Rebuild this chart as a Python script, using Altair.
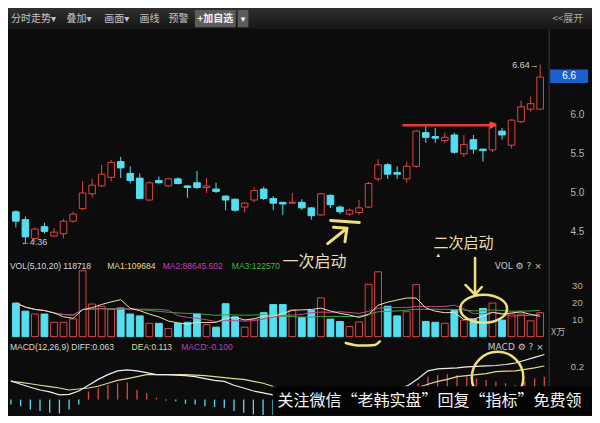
import altair as alt
import pandas as pd

# ---------------- data ----------------
opens = [4.76, 4.66, 4.42, 4.57, 4.45, 4.48, 4.64, 4.80, 4.99, 5.09,
         5.20, 5.40, 5.25, 5.19, 4.91, 5.16, 5.09, 5.18, 5.09, 5.13,
         5.07, 5.05, 4.96, 4.92, 4.82, 4.91, 5.05, 4.93, 4.88, 4.87,
         4.88, 4.81, 4.72, 4.97, 4.82, 4.73, 4.75, 4.82, 5.18, 5.36,
         5.26, 5.18, 5.34, 5.77, 5.72, 5.67, 5.74, 5.50, 5.68, 5.56,
         5.55, 5.79, 5.61, 5.91, 6.07, 6.07]
highs = [4.78, 4.70, 4.56, 4.62, 4.55, 4.67, 4.76, 5.15, 5.18, 5.36,
         5.42, 5.46, 5.34, 5.25, 5.15, 5.21, 5.19, 5.20, 5.10, 5.28,
         5.19, 5.13, 4.97, 4.93, 4.88, 5.07, 5.08, 4.96, 4.88, 5.00,
         4.92, 4.82, 5.00, 4.98, 4.84, 4.80, 4.91, 5.14, 5.43, 5.38,
         5.34, 5.40, 5.80, 5.85, 5.83, 5.77, 5.77, 5.74, 5.74, 5.56,
         5.90, 5.83, 5.94, 6.18, 6.23, 6.64]
lows = [4.56, 4.36, 4.37, 4.48, 4.44, 4.42, 4.62, 4.78, 4.94, 5.08,
        5.15, 5.19, 5.12, 4.92, 4.90, 5.12, 5.08, 5.11, 4.94, 5.05,
        5.00, 5.00, 4.78, 4.76, 4.75, 4.88, 4.91, 4.78, 4.72, 4.86,
        4.78, 4.66, 4.71, 4.81, 4.73, 4.71, 4.72, 4.81, 5.15, 5.18,
        5.18, 5.13, 5.32, 5.64, 5.64, 5.64, 5.50, 5.46, 5.50, 5.40,
        5.52, 5.68, 5.57, 5.89, 6.04, 6.06]
closes = [4.64, 4.44, 4.54, 4.51, 4.50, 4.64, 4.73, 5.00, 5.10, 5.24,
          5.39, 5.32, 5.16, 4.93, 5.13, 5.13, 5.18, 5.12, 5.07, 5.07,
          5.09, 5.02, 4.91, 4.78, 4.87, 5.03, 4.93, 4.87, 4.86, 4.88,
          4.81, 4.71, 4.99, 4.85, 4.76, 4.78, 4.81, 5.12, 5.36, 5.24,
          5.24, 5.34, 5.79, 5.71, 5.70, 5.71, 5.52, 5.62, 5.56, 5.54,
          5.89, 5.74, 5.93, 6.10, 6.14, 6.48]
volumes = [19.9, 15.1, 13.4, 13.4, 8.5, 8.5, 10.5, 39.0, 19.3, 18.0,
           16.2, 17.0, 13.4, 12.3, 7.9, 7.9, 4.8, 7.9, 8.5, 13.4,
           7.1, 5.6, 19.5, 11.7, 5.6, 10.5, 14.2, 19.0, 19.0, 15.7,
           11.3, 15.5, 23.0, 10.4, 9.0, 6.0, 8.7, 31.0, 38.4, 18.0,
           12.3, 14.8, 30.8, 9.0, 8.5, 7.9, 15.5, 9.8, 10.4, 16.7,
           19.9, 9.8, 13.4, 13.4, 9.4, 14.2]
diff_vals = [0.115, 0.094, 0.076, 0.059, 0.047, 0.029, 0.032, 0.053, 0.088, 0.124,
             0.153, 0.176, 0.182, 0.176, 0.165, 0.153, 0.153, 0.150, 0.147, 0.141,
             0.129, 0.118, 0.112, 0.088, 0.071, 0.053, 0.041, 0.029, 0.012, -0.006,
             -0.018, -0.024, -0.029, -0.029, -0.029, -0.024, -0.012, 0.006, 0.024, 0.041,
             0.065, 0.088, 0.129, 0.176, 0.188, 0.191, 0.194, 0.200, 0.203, 0.206,
             0.209, 0.215, 0.224, 0.241, 0.259, 0.276]
dea_vals = [0.112, 0.106, 0.097, 0.088, 0.079, 0.071, 0.059, 0.065, 0.071, 0.082,
            0.100, 0.118, 0.129, 0.141, 0.153, 0.153, 0.153, 0.153, 0.153, 0.150,
            0.147, 0.141, 0.135, 0.129, 0.124, 0.112, 0.100, 0.082, 0.065, 0.047,
            0.035, 0.024, 0.018, 0.012, 0.012, 0.012, 0.015, 0.018, 0.024, 0.035,
            0.047, 0.059, 0.076, 0.094, 0.112, 0.124, 0.141, 0.147, 0.153, 0.159,
            0.171, 0.174, 0.176, 0.185, 0.194, 0.206]
macd_hist = [-0.03, -0.04, -0.06, -0.07, -0.08, -0.085, -0.06, -0.03, 0.05, 0.07,
             0.09, 0.10, 0.105, 0.06, 0.04, 0.012, -0.005, -0.01, -0.025, -0.03,
             -0.04, -0.045, -0.05, -0.07, -0.08, -0.09, -0.095, -0.10, -0.10, -0.10,
             -0.10, -0.09, -0.09, -0.08, -0.08, -0.07, -0.05, -0.03, 0.0, 0.01,
             0.035, 0.06, 0.10, 0.14, 0.15, 0.155, 0.15, 0.14, 0.13, 0.12,
             0.11, 0.10, 0.09, 0.11, 0.13, 0.14]

price_ticks = [6.0, 5.5, 5.0, 4.5]
vol_ticks = [30, 20, 10]
macd_ticks = [0.2]

toolbar_items = ["分时走势▾", "叠加▾", "画面▾", "画线", "预警"]

# annotation anchors (candle index, value)
resistance = {"idx": [41.55, 50.9], "price": [5.865, 5.865]}
first_mark_seg = ["u", "u", "d", "d", "h", "h", "h"]
first_mark_idx = [34.02, 37.03, 33.71, 35.73, 34.32, 35.73, 35.52]
first_mark_price = [4.649, 4.624, 4.354, 4.550, 4.563, 4.550, 4.378]
down_arrow_seg = ["s", "s", "h", "h", "h"]
down_arrow_idx = [49.17, 49.17, 48.17, 49.17, 49.88]
down_arrow_vol = [46.5, 25.0, 30.6, 24.9, 29.4]
bracket_idx = [35.52, 37.03, 38.54, 39.04]
bracket_val = [0.347, 0.331, 0.335, 0.356]

# ---------------- styling / layout ----------------
BG = "#0c0c0c"
RED = "#e04545"
CYAN = "#55def0"
YEL = "#f0e07a"
GRAY = "#b4b4b4"
NUM = "Liberation Sans"
CJK = "Noto Sans CJK SC, DejaVu Sans"

W = 584
SX = 584 / 600
SY = 407 / 423
H_TB, H_P, H_V, H_M = 21, 229, 83, 74
TOP_P, TOP_V, TOP_M = 22, 260, 346


def px(x):
    return x * SX


def py(y, top):
    return (y - top) * SY


XS = alt.Scale(domain=[1 - 3 / 9.964, 1 + 597 / 9.964], nice=False, zero=False)
YP = alt.Scale(domain=[4.170, 7.093], nice=False, zero=False)
YV = alt.Scale(domain=[-2.57, 46.57], nice=False, zero=False)
YM = alt.Scale(domain=[-0.0941, 0.3588], nice=False, zero=False)
DIR_STROKE = alt.Scale(domain=["up", "down"], range=[RED, CYAN])
DIR_FILL = alt.Scale(domain=["up", "down"], range=[BG, CYAN])


def xenc():
    return alt.X("idx:Q", scale=XS, axis=None)


def label(text, x, y, size=9, color=GRAY, align="left", font=NUM, weight="normal"):
    return alt.Chart(pd.DataFrame({"t": [text]})).mark_text(
        align=align, baseline="middle", fontSize=size, font=font,
        color=color, fontWeight=weight
    ).encode(text="t:N", x=alt.value(x), y=alt.value(y))


def box(x1, x2, y1, y2, color):
    return alt.Chart(pd.DataFrame({"a": [0]})).mark_rect(color=color).encode(
        x=alt.value(x1), x2=alt.value(x2), y=alt.value(y1), y2=alt.value(y2))


def vsep(h):
    return alt.Chart(pd.DataFrame({"a": [0]})).mark_rule(color="#3a3a3a", strokeWidth=1).encode(
        x=alt.value(px(556)), y=alt.value(0), y2=alt.value(h))


n = len(opens)
df = pd.DataFrame({
    "idx": list(range(1, n + 1)), "open": opens, "high": highs, "low": lows,
    "close": closes, "vol": volumes, "diff": diff_vals, "dea": dea_vals, "hist": macd_hist,
})
base = alt.Chart(df).transform_calculate(
    dir="datum.close >= datum.open ? 'up' : 'down'", zero="0")

# ---------------- toolbar ----------------
tb_bg = alt.Chart(pd.DataFrame({"a": [0]})).mark_rect(
    color=alt.Gradient(gradient="linear",
                       stops=[alt.GradientStop(color="#303030", offset=0),
                              alt.GradientStop(color="#151515", offset=1)],
                       x1=0, x2=0, y1=0, y2=1)
).encode(x=alt.value(0), x2=alt.value(W), y=alt.value(0), y2=alt.value(H_TB))
tb_x = [3, 60, 99, 135, 165]
tb_layers = [tb_bg]
for t, xx in zip(toolbar_items, tb_x):
    tb_layers.append(label(t, px(xx), py(11, 0), size=10, color="#c4c4c4", font=CJK))
tb_layers += [
    box(px(192), px(234), py(2, 0), py(20, 0), "#5c5c5c"),
    box(px(236), px(247), py(2, 0), py(20, 0), "#5c5c5c"),
    label("+加自选", px(213), py(11, 0), size=10, color="#f2f2f2", align="center", font=CJK, weight="bold"),
    label("▾", px(241.5), py(11, 0), size=9, color="#f2f2f2", align="center", font=CJK),
    label("<<展开", px(591), py(11, 0), size=10, color="#aaaaaa", align="right", font=CJK),
]
toolbar = alt.layer(*tb_layers).properties(width=W, height=H_TB)

# ---------------- price panel ----------------
wicks = base.mark_rule(strokeWidth=1).encode(
    x=xenc(), y=alt.Y("low:Q", scale=YP, axis=None), y2="high:Q",
    color=alt.Color("dir:N", scale=DIR_STROKE, legend=None))
bodies = base.mark_bar(size=6.6, strokeWidth=1).encode(
    x=xenc(), y=alt.Y("open:Q", scale=YP, axis=None), y2="close:Q",
    fill=alt.Fill("dir:N", scale=DIR_FILL, legend=None),
    stroke=alt.Stroke("dir:N", scale=DIR_STROKE, legend=None))
res_line = alt.Chart(pd.DataFrame(resistance)).mark_line(color="#e83a30", strokeWidth=2.5).encode(
    x=xenc(), y=alt.Y("price:Q", scale=YP, axis=None))
res_head = alt.Chart(pd.DataFrame({"idx": [51.1], "price": [5.865]})).mark_point(
    shape="triangle-right", size=60, filled=True, color="#ff4a3a", opacity=1).encode(
    x=xenc(), y=alt.Y("price:Q", scale=YP, axis=None))
p_ticks = alt.Chart(pd.DataFrame({"p": price_ticks})).mark_text(
    fontSize=10, color=GRAY, align="center", baseline="middle", font=NUM).encode(
    x=alt.value(px(585)), y=alt.Y("p:Q", scale=YP, axis=None), text=alt.Text("p:Q", format=".1f"))
first_mark = alt.Chart(pd.DataFrame({
    "seg": first_mark_seg, "ord": list(range(len(first_mark_seg))),
    "idx": first_mark_idx, "price": first_mark_price})).mark_line(
    color=YEL, strokeWidth=3, strokeCap="round", strokeJoin="round").encode(
    x=xenc(), y=alt.Y("price:Q", scale=YP, axis=None), detail="seg:N", order="ord:Q")

price = alt.layer(
    vsep(H_P),
    wicks, bodies, res_line, res_head, p_ticks, first_mark,
    box(px(557), px(596), py(64, TOP_P), py(78, TOP_P), "#1d5fcc"),
    label("6.6", px(576.5), py(71, TOP_P), size=10, color="#ffffff", align="center"),
    label("6.64→", px(518), py(59, TOP_P), size=9, color="#d0d0d0"),
    label("←4.36", px(13), py(243, TOP_P), size=9, color="#d0d0d0"),
    label("二次启动", px(468), py(244, TOP_P), size=15, color="#e8dfb6", align="center", font=CJK),
    label("▲", px(442), py(257, TOP_P), size=6, color="#e0e0e0", align="center"),
).properties(width=W, height=H_P)

# ---------------- volume panel ----------------
vbars = base.mark_bar(size=6.8, strokeWidth=1).encode(
    x=xenc(), y=alt.Y("vol:Q", scale=YV, axis=None), y2="zero:Q",
    fill=alt.Fill("dir:N", scale=DIR_FILL, legend=None),
    stroke=alt.Stroke("dir:N", scale=DIR_STROKE, legend=None))


def ma_line(k, color):
    return alt.Chart(df).transform_window(
        ma=f"mean(vol)", frame=[-(k - 1), 0], sort=[alt.SortField("idx")]
    ).mark_line(color=color, strokeWidth=1).encode(
        x=xenc(), y=alt.Y("ma:Q", scale=YV, axis=None))


v_ticks = alt.Chart(pd.DataFrame({"v": vol_ticks})).mark_text(
    fontSize=9.5, color=GRAY, align="center", baseline="middle", font=NUM).encode(
    x=alt.value(px(585)), y=alt.Y("v:Q", scale=YV, axis=None), text="v:Q")
ellipse = alt.Chart(pd.DataFrame({"idx": [50.08], "vol": [16.57]})).mark_point(
    shape="M-1,0A1,0.6,0,1,1,1,0A1,0.6,0,1,1,-1,0Z", size=2181, filled=False,
    color=YEL, strokeWidth=2.5, opacity=1).encode(
    x=xenc(), y=alt.Y("vol:Q", scale=YV, axis=None))
down_arrow = alt.Chart(pd.DataFrame({
    "seg": down_arrow_seg, "ord": list(range(len(down_arrow_seg))),
    "idx": down_arrow_idx, "vol": down_arrow_vol})).mark_line(
    color=YEL, strokeWidth=2.5, strokeCap="round", strokeJoin="round").encode(
    x=xenc(), y=alt.Y("vol:Q", scale=YV, axis=None), detail="seg:N", order="ord:Q")

volume = alt.layer(
    vsep(H_V),
    vbars,
    ma_line(20, "#3aa83a"), ma_line(10, "#c8448c"), ma_line(5, "#e8e0b0"),
    v_ticks, ellipse, down_arrow,
    label("VOL(5,10,20) 118718", px(2), py(268, TOP_V), size=8.5, color="#d8d8d8"),
    label("MA1:109684", px(102), py(268, TOP_V), size=8.5, color="#e6dc90"),
    label("MA2:88645.602", px(159), py(268, TOP_V), size=8.5, color="#c83cc0"),
    label("MA3:122570", px(230), py(268, TOP_V), size=8.5, color="#3cbc3c"),
    label("VOL ⚙ ? ×", px(500), py(268, TOP_V), size=9, color="#c8c8c8", font="DejaVu Sans"),
    label("X万", px(558), py(337, TOP_V), size=9, color=GRAY, font=CJK),
    label("一次启动", px(315), py(264, TOP_V), size=16, color="#e8dfb6", align="center", font=CJK),
).properties(width=W, height=H_V)

# ---------------- MACD panel ----------------
hist = alt.Chart(df).transform_calculate(
    zero="0", hdir="datum.hist >= 0 ? 'up' : 'down'").mark_rule(strokeWidth=1.3, clip=True).encode(
    x=xenc(), y=alt.Y("hist:Q", scale=YM, axis=None), y2="zero:Q",
    color=alt.Color("hdir:N", scale=DIR_STROKE, legend=None))
dea_line = alt.Chart(df).mark_line(color="#e2d88e", strokeWidth=1.2, clip=True).encode(
    x=xenc(), y=alt.Y("dea:Q", scale=YM, axis=None))
diff_line = alt.Chart(df).mark_line(color="#eeeeee", strokeWidth=1.2, clip=True).encode(
    x=xenc(), y=alt.Y("diff:Q", scale=YM, axis=None))
m_ticks = alt.Chart(pd.DataFrame({"m": macd_ticks})).mark_text(
    fontSize=9.5, color=GRAY, align="center", baseline="middle", font=NUM).encode(
    x=alt.value(px(585)), y=alt.Y("m:Q", scale=YM, axis=None), text=alt.Text("m:Q", format=".1f"))
circle = alt.Chart(pd.DataFrame({"idx": [51.18], "v": [0.135]})).mark_point(
    shape="circle", size=2660, filled=False, color=YEL, strokeWidth=2.5, opacity=1).encode(
    x=xenc(), y=alt.Y("v:Q", scale=YM, axis=None))
bracket = alt.Chart(pd.DataFrame({"idx": bracket_idx, "v": bracket_val})).mark_line(
    color=YEL, strokeWidth=2.5, strokeCap="round", interpolate="monotone").encode(
    x=xenc(), y=alt.Y("v:Q", scale=YM, axis=None))

macd = alt.layer(
    vsep(H_M),
    hist, dea_line, diff_line, m_ticks, circle, bracket,
    label("MACD(12,26,9) DIFF:0.063", px(2), py(352, TOP_M), size=8.5, color="#d8d8d8"),
    label("DEA:0.113", px(127), py(352, TOP_M), size=8.5, color="#e2d88e"),
    label("MACD:-0.100", px(178), py(352, TOP_M), size=8.5, color="#c03cbc"),
    label("MACD ⚙ ? ×", px(493), py(352, TOP_M), size=9, color="#c8c8c8", font="DejaVu Sans"),
    box(px(272), W, py(393, TOP_M), H_M, "#050505"),
    label("关注微信“老韩实盘”回复“指标”免费领", px(277), py(408, TOP_M), size=16,
          color="#f4f4f4", font=CJK),
).properties(width=W, height=H_M)

chart = alt.vconcat(toolbar, price, volume, macd, spacing=0, bounds="flush").properties(
    padding=0, background=BG).configure_view(strokeWidth=0)

chart.save("out.html", embed_options={"renderer": "svg", "actions": False})
